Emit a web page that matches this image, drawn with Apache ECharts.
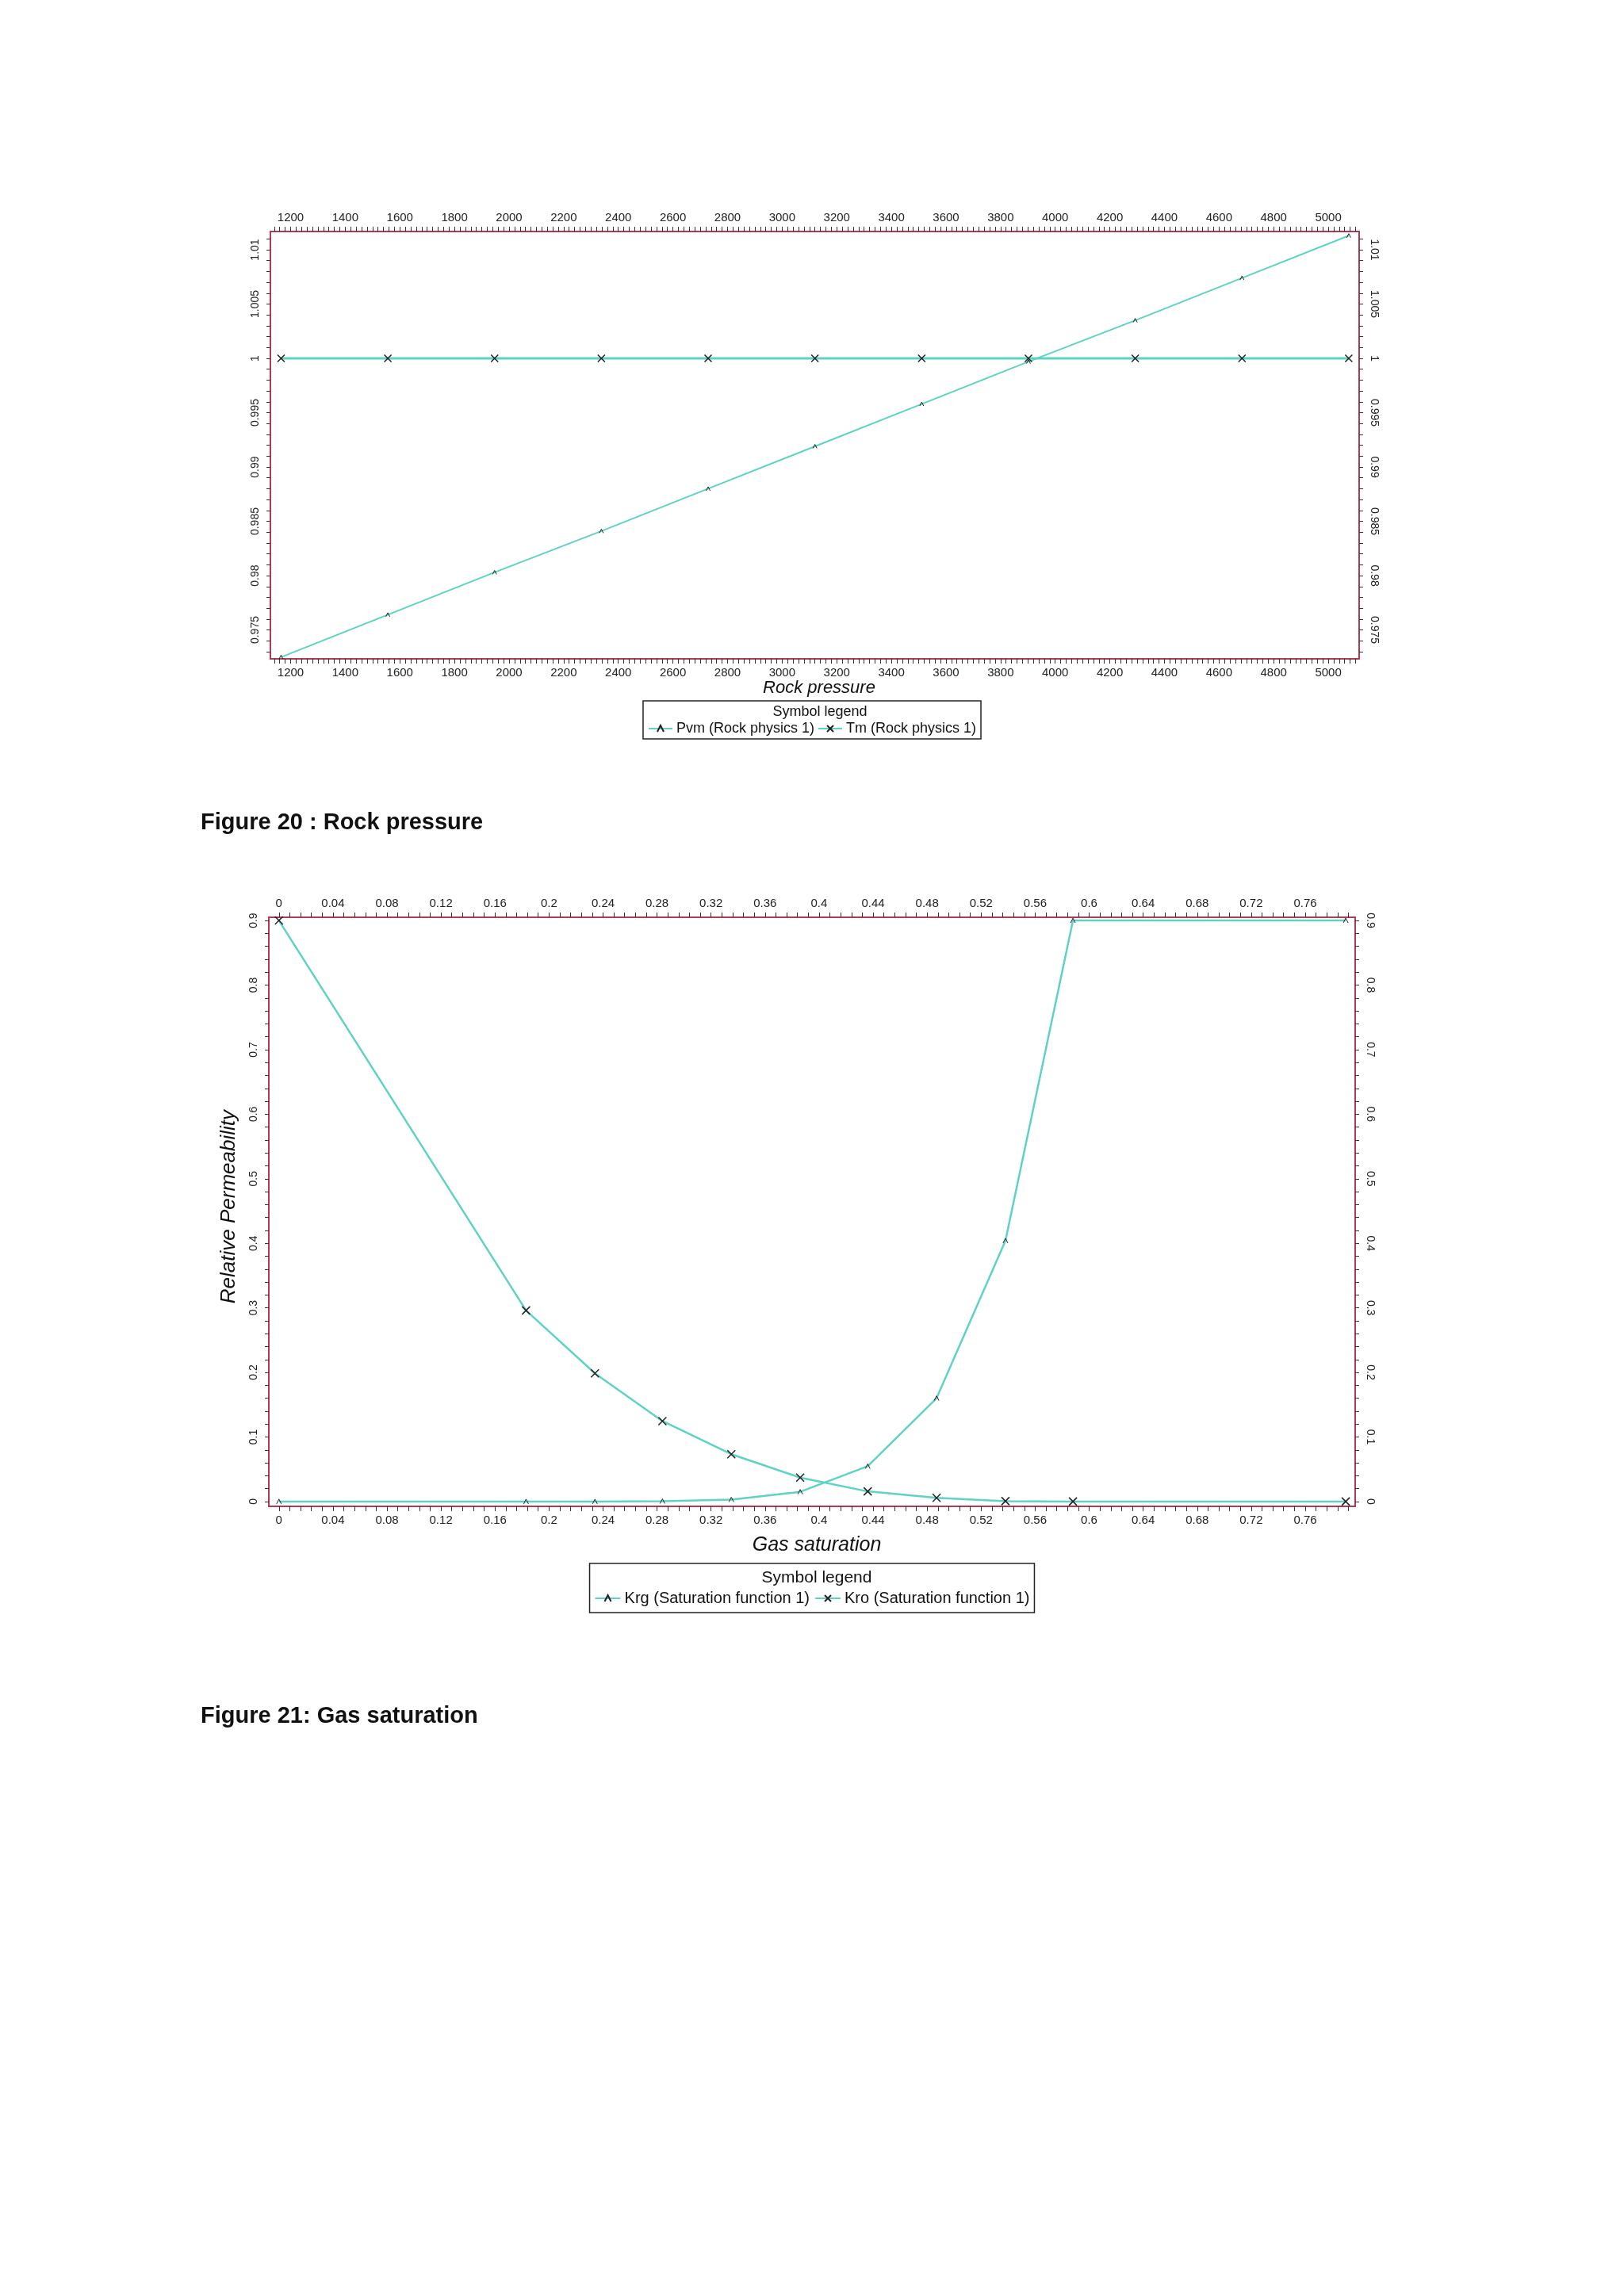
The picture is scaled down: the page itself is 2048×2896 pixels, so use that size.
<!DOCTYPE html>
<html>
<head>
<meta charset="utf-8">
<script src="https://cdn.jsdelivr.net/npm/echarts@6/dist/echarts.min.js"></script>
<style>
  html, body { margin: 0; padding: 0; background: #fff; }
  #main { width: 2048px; height: 2896px; }
</style>
</head>
<body>
<div id="main"></div>
<script>
// figure 20 data
const pressure = [1165, 1556, 1947, 2338, 2729, 3120, 3511, 3902, 4293, 4684, 5075];
const pvm = [0.9725, 0.9764, 0.9803, 0.9841, 0.9880, 0.9919, 0.9958, 0.9997, 1.0035, 1.0074, 1.0113];
const tm = [1, 1, 1, 1, 1, 1, 1, 1, 1, 1, 1];
const pressureLabels = [1200, 1400, 1600, 1800, 2000, 2200, 2400, 2600, 2800, 3000, 3200, 3400, 3600, 3800, 4000, 4200, 4400, 4600, 4800, 5000];
const multLabels = [0.975, 0.98, 0.985, 0.99, 0.995, 1, 1.005, 1.01];

// figure 21 data
const sat = [0, 0.183, 0.234, 0.284, 0.335, 0.386, 0.436, 0.487, 0.538, 0.588, 0.79];
const krg = [0, 0, 0, 0.0005, 0.003, 0.015, 0.0546, 0.16, 0.404, 0.9, 0.9];
const kro = [0.9, 0.296, 0.1985, 0.1246, 0.0733, 0.037, 0.0157, 0.0056, 0.0006, 0, 0];
const satLabels = [0, 0.04, 0.08, 0.12, 0.16, 0.2, 0.24, 0.28, 0.32, 0.36, 0.4, 0.44, 0.48, 0.52, 0.56, 0.6, 0.64, 0.68, 0.72, 0.76];
const permLabels = [0, 0.1, 0.2, 0.3, 0.4, 0.5, 0.6, 0.7, 0.8, 0.9];

const steps = (a, b, s) => { let r = []; for (let v = a; v <= b + 1e-9; v += s) r.push(+v.toFixed(6)); return r; };
const fmt = v => String(+v.toFixed(4));

const LINE = '#5fd3c3';
const AXIS = '#b23a55';
const FONT = '"Liberation Sans", Arial, sans-serif';
const crossIcon = 'path://M0,0L10,10M10,0L0,10';
const caretIcon = 'path://M0,10L5,0L10,10';

const xAxisDef = (grid, pos, min, max, labels, ticks) => ({
    type: 'value', gridIndex: grid, position: pos, min: min, max: max,
    splitLine: { show: false },
    axisLine: { show: true, onZero: false, lineStyle: { color: AXIS, width: 2 } },
    axisTick: { show: true, customValues: ticks, length: 6, lineStyle: { color: '#333', width: 1 } },
    axisLabel: { customValues: labels, formatter: fmt, color: '#222', fontSize: 15, fontFamily: FONT, margin: 10 }
});
const yAxisDef = (grid, pos, min, max, labels, ticks) => ({
    type: 'value', gridIndex: grid, position: pos, min: min, max: max,
    splitLine: { show: false },
    axisLine: { show: true, onZero: false, lineStyle: { color: AXIS, width: 2 } },
    axisTick: { show: true, customValues: ticks, length: 5, lineStyle: { color: '#333', width: 1 } },
    axisLabel: { customValues: labels, formatter: fmt, color: '#222', fontSize: 14, fontFamily: FONT,
        rotate: pos === 'left' ? 90 : -90, margin: 12 }
});

const chart = echarts.init(document.getElementById('main'));
const option = {
    backgroundColor: '#fff',
    animation: false,
    title: [
        { text: 'Figure 20 : Rock pressure', left: 248, top: 1018, textStyle: { fontSize: 29, fontWeight: 'bold', fontFamily: FONT, color: '#111' } },
        { text: 'Figure 21: Gas saturation', left: 248, top: 2145, textStyle: { fontSize: 29, fontWeight: 'bold', fontFamily: FONT, color: '#111' } },
        { text: 'Rock pressure', left: 1028, top: 852, textAlign: 'center', textStyle: { fontSize: 22, fontStyle: 'italic', fontWeight: 'normal', fontFamily: FONT, color: '#111' } },
        { text: 'Gas saturation', left: 1025, top: 1932, textAlign: 'center', textStyle: { fontSize: 25, fontStyle: 'italic', fontWeight: 'normal', fontFamily: FONT, color: '#111' } },
        { text: 'Symbol legend', left: 1029, top: 884, textAlign: 'center', textStyle: { fontSize: 18, fontWeight: 'normal', fontFamily: FONT, color: '#111' } },
        { text: 'Symbol legend', left: 1025, top: 1975, textAlign: 'center', textStyle: { fontSize: 21, fontWeight: 'normal', fontFamily: FONT, color: '#111' } }
    ],
    graphic: [
        { type: 'text', left: 276, top: 1400, rotation: Math.PI / 2,
          style: { text: 'Relative Permeability', fontSize: 26, fontStyle: 'italic', fontFamily: FONT, fill: '#111' } }
    ],
    legend: [
        { data: ['Pvm (Rock physics 1)', 'Tm (Rock physics 1)'], left: 'center', top: 884, orient: 'horizontal',
          padding: [26, 6, 4, 6], itemGap: 4, itemWidth: 30, itemHeight: 10,
          borderColor: '#222', borderWidth: 1.5,
          textStyle: { fontSize: 18, fontFamily: FONT, color: '#111' } },
        { data: ['Krg (Saturation function 1)', 'Kro (Saturation function 1)'], left: 'center', top: 1972, orient: 'horizontal',
          padding: [34, 6, 8, 6], itemGap: 6, itemWidth: 32, itemHeight: 10,
          borderColor: '#222', borderWidth: 1.5,
          textStyle: { fontSize: 20, fontFamily: FONT, color: '#111' } }
    ],
    grid: [
        { left: 341, top: 292, width: 1373, height: 539 },
        { left: 339, top: 1157, width: 1370, height: 743 }
    ],
    xAxis: [
        xAxisDef(0, 'bottom', 1126, 5113, pressureLabels, steps(1140, 5100, 20)),
        xAxisDef(0, 'top', 1126, 5113, pressureLabels, steps(1140, 5100, 20)),
        xAxisDef(1, 'bottom', -0.0075, 0.797, satLabels, steps(0, 0.792, 0.008)),
        xAxisDef(1, 'top', -0.0075, 0.797, satLabels, steps(0, 0.792, 0.008))
    ],
    yAxis: [
        yAxisDef(0, 'left', 0.97234, 1.01168, multLabels, steps(0.973, 1.011, 0.001)),
        yAxisDef(0, 'right', 0.97234, 1.01168, multLabels, steps(0.973, 1.011, 0.001)),
        yAxisDef(1, 'left', -0.0075, 0.905, permLabels, steps(0, 0.9, 0.02)),
        yAxisDef(1, 'right', -0.0075, 0.905, permLabels, steps(0, 0.9, 0.02))
    ],
    series: [
        { name: 'Pvm (Rock physics 1)', type: 'line', xAxisIndex: 0, yAxisIndex: 0,
          data: pressure.map((p, i) => [p, pvm[i]]),
          symbol: caretIcon, symbolSize: 5, lineStyle: { color: LINE, width: 2 },
          itemStyle: { color: 'rgba(0,0,0,0)', borderColor: '#222', borderWidth: 1 } },
        { name: 'Tm (Rock physics 1)', type: 'line', xAxisIndex: 0, yAxisIndex: 0,
          data: pressure.map((p, i) => [p, tm[i]]),
          symbol: crossIcon, symbolSize: 9, lineStyle: { color: LINE, width: 3 },
          itemStyle: { color: 'rgba(0,0,0,0)', borderColor: '#222', borderWidth: 1.5 } },
        { name: 'Krg (Saturation function 1)', type: 'line', xAxisIndex: 2, yAxisIndex: 2,
          data: sat.map((s, i) => [s, krg[i]]),
          symbol: caretIcon, symbolSize: 6, lineStyle: { color: LINE, width: 2.5 },
          itemStyle: { color: 'rgba(0,0,0,0)', borderColor: '#222', borderWidth: 1 } },
        { name: 'Kro (Saturation function 1)', type: 'line', xAxisIndex: 2, yAxisIndex: 2,
          data: sat.map((s, i) => [s, kro[i]]),
          symbol: crossIcon, symbolSize: 10, lineStyle: { color: LINE, width: 2.5 },
          itemStyle: { color: 'rgba(0,0,0,0)', borderColor: '#222', borderWidth: 1.5 } }
    ]
};
chart.setOption(option);
</script>
</body>
</html>
